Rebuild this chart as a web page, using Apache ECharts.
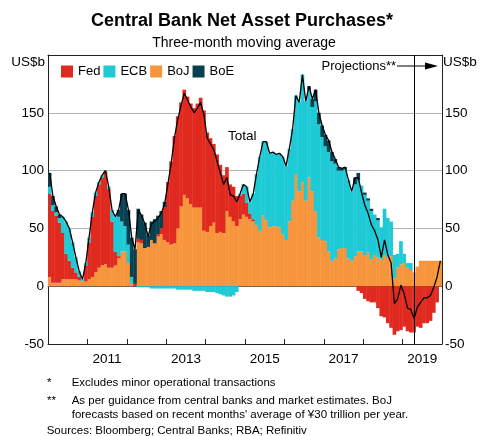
<!DOCTYPE html>
<html>
<head>
<meta charset="utf-8">
<script src="https://cdn.jsdelivr.net/npm/echarts@6/dist/echarts.min.js"></script>
<style>
html,body{margin:0;padding:0;background:#fff;}
#chart{width:480px;height:436px;}
</style>
</head>
<body>
<div id="chart"></div>
<script>
// ---- Data (US$b, three-month moving average, monthly Jan 2010 - Dec 2019) ----
const years = ['2010','2011','2012','2013','2014','2015','2016','2017','2018','2019'];
const yTicks = [-50, 0, 50, 100, 150, 200];

const fed = [
  72, 62, 58, 52, 40, 22, 16, 10, 6, 3, 0, 14,          // 2010
  32, 52, 66, 72, 76, 80, 68, 40, 12, 2, 0, 0,          // 2011
  0, 0, 2, 3, 3, 0, 0, 0, 0, 2, 5, 28,                  // 2012
  52, 72, 93, 97, 90, 91, 88, 87, 86, 90, 95, 104,      // 2013
  86, 76, 68, 68, 58, 50, 38, 28, 30, 26, 20, 18,       // 2014
  12, 5, 2, 0, 0, 0, 0, 0, 0, 0, 0, 0,                  // 2015
  0, 0, 0, 0, 0, 0, 0, 0, 0, 0, 0, 0,                   // 2016
  0, 0, 0, 0, 0, 0, 0, 0, 0, 0, -4, -6,                 // 2017
  -11, -13, -14, -14, -19, -26, -27, -32, -36, -42, -39, -38, // 2018
  -35, -39, -40, -40, -35, -36, -32, -32, -30, -23, -14, 0    // 2019
];
const ecb = [
  6, 5, 3, 4, 14, 28, 28, 22, 13, 5, 2, 2,
  4, 4, 3, 2, 2, 1, 2, 10, 30, 34, 26, 22,
  16, 6, 0, -1, -1, -1, -1, -2, -2, -2, -2, -2,
  -2, -2, -2, -3, -3, -3, -3, -3, -4, -4, -4, -4,
  -5, -5, -5, -6, -7, -8, -9, -9, -8, -5, 2, 8,
  14, 10, 22, 44, 64, 64, 68, 64, 64, 62, 64, 67,
  64, 63, 62, 68, 77, 93, 86, 76, 73, 95, 98, 89,
  82, 86, 86, 82, 68, 67, 68, 68, 60, 62, 62, 57,
  52, 45, 42, 35, 32, 28, 40, 34, 30, 20, 12, 20,
  8, 4, 6, 0, 0, 0, 0, 0, 0, 0, 0, 0
];
const boj = [
  8, 3, 3, 3, 6, 6, 6, 6, 6, 5, 4, 4,
  6, 8, 12, 16, 18, 19, 16, 16, 18, 24, 30, 30,
  20, 2, 0, 38, 37, 33, 34, 40, 37, 43, 45, 40,
  38, 36, 37, 50, 69, 79, 76, 71, 68, 68, 68, 48,
  47, 52, 55, 46, 47, 46, 65, 60, 56, 52, 58, 62,
  60, 58, 56, 53, 48, 61, 57, 51, 52, 52, 51, 45,
  40, 56, 74, 97, 82, 90, 74, 94, 82, 65, 42, 40,
  39, 30, 22, 24, 32, 33, 33, 24, 22, 26, 30, 30,
  27, 29, 23, 27, 25, 23, 27, 25, 26, 7, 16, 19,
  20, 16, 14, 12, 17, 22, 22, 22, 22, 22, 22, 22
];
const boe = [
  12, 8, 5, 3, 0, 0, 0, 0, 0, 0, 0, 0,
  0, 0, 0, 0, 0, 0, 0, 0, 0, 6, 24, 28,
  30, 34, 30, 26, 22, 22, 10, 16, 21, 16, 15, 5,
  0, 0, 0, 0, 0, 0, 0, 0, 0, 0, 0, 0,
  0, 0, 0, 0, 0, 0, 0, 0, 0, 0, 0, 0,
  0, 0, 0, 0, 0, 0, 0, 0, 0, 0, 0, 0,
  0, 0, 0, 0, 0, 0, 0, 3, 7, 10, 10, 10,
  10, 10, 8, 4, 3, 2, 2, 0, 0, 6, 6, 0,
  2, 2, 2, 0, 2, 0, 0, 0, 0, 0, 0, 0,
  0, 0, 0, 0, 0, 0, 0, 0, 0, 0, 0, 0
];
const projectionStart = '2019-04';

// monthly categories
const months = [];
years.forEach(y => { for (let m = 1; m <= 12; m++) months.push(y + '-' + (m < 10 ? '0' + m : m)); });
const total = months.map((_, i) => fed[i] + ecb[i] + boj[i] + boe[i]);

// ---- Chart ----
const FONT = '"Liberation Sans", Arial, Helvetica, sans-serif';
const COL = { fed: '#E0291F', ecb: '#1DCAD6', boj: '#F7953D', boe: '#08404F' };
const chart = echarts.init(document.getElementById('chart'), null, { renderer: 'canvas' });

const barBase = {
  type: 'bar', stack: 'cb', xAxisIndex: 0, yAxisIndex: 0,
  barWidth: '112%', emphasis: { disabled: true }, silent: true
};

function txt(x, y, text, size, align, weight) {
  return {
    type: 'text', x: x, y: y, silent: true,
    style: { text: text, fill: '#000', font: (weight || 'normal') + ' ' + size + 'px ' + FONT,
             textAlign: align || 'left', textVerticalAlign: 'middle' }
  };
}

const option = {
  animation: false,
  textStyle: { fontFamily: FONT },
  grid: { left: 48, right: 38, top: 55, bottom: 92, containLabel: false },
  legend: {
    data: ['Fed', 'ECB', 'BoJ', 'BoE'],
    left: 61, top: 65, padding: 0, itemWidth: 12, itemHeight: 12, itemGap: 3,
    icon: 'rect', selectedMode: false,
    textStyle: { fontSize: 13, color: '#000', fontFamily: FONT }
  },
  xAxis: [
    { type: 'category', data: months, boundaryGap: true,
      axisLine: { show: true, onZero: true, lineStyle: { color: '#555', width: 1 } },
      axisTick: { show: false }, axisLabel: { show: false }, splitLine: { show: false } },
    { type: 'category', data: years, position: 'bottom', boundaryGap: true,
      axisLine: { show: true, onZero: false, lineStyle: { color: '#222', width: 1 } },
      axisTick: { show: true, inside: true, length: 5, interval: 0, lineStyle: { color: '#222' } },
      axisLabel: { interval: 0, margin: 8, fontSize: 13.5, color: '#000', fontFamily: FONT,
                   formatter: v => (Number(v) % 2 === 1 ? v : '') },
      splitLine: { show: false } },
    { type: 'category', data: years, position: 'top',
      axisLine: { show: true, onZero: false, lineStyle: { color: '#222', width: 1 } },
      axisTick: { show: false }, axisLabel: { show: false }, splitLine: { show: false } }
  ],
  yAxis: [
    { type: 'value', min: yTicks[0], max: yTicks[yTicks.length - 1], interval: 50, position: 'left',
      axisLine: { show: true, lineStyle: { color: '#222' } }, axisTick: { show: false },
      axisLabel: { margin: 4, fontSize: 13.5, color: '#000', fontFamily: FONT,
                   formatter: v => (v === 200 ? '' : String(v)) },
      splitLine: { show: true, lineStyle: { color: '#b4b4b4', width: 1 } } },
    { type: 'value', min: yTicks[0], max: yTicks[yTicks.length - 1], interval: 50, position: 'right',
      axisLine: { show: true, lineStyle: { color: '#222' } }, axisTick: { show: false },
      axisLabel: { margin: 3, fontSize: 13.5, color: '#000', fontFamily: FONT,
                   formatter: v => (v === 200 ? '' : String(v)) },
      splitLine: { show: false } }
  ],
  series: [
    Object.assign({}, barBase, { name: 'BoJ', data: boj, itemStyle: { color: COL.boj } }),
    Object.assign({}, barBase, { name: 'Fed', data: fed, itemStyle: { color: COL.fed } }),
    Object.assign({}, barBase, { name: 'ECB', data: ecb, itemStyle: { color: COL.ecb } }),
    Object.assign({}, barBase, { name: 'BoE', data: boe, itemStyle: { color: COL.boe } }),
    { name: 'Total', type: 'line', data: total, xAxisIndex: 0, yAxisIndex: 0,
      symbol: 'none', silent: true, z: 5,
      lineStyle: { color: '#000', width: 1.3 },
      markLine: { silent: true, symbol: ['none', 'none'], label: { show: false },
                  lineStyle: { color: '#000', width: 1, type: 'solid' },
                  data: [{ xAxis: projectionStart }] } }
  ],
  graphic: [
    txt(242, 21, 'Central Bank Net Asset Purchases*', 18, 'center', 'bold'),
    txt(244, 43, 'Three-month moving average', 14, 'center'),
    txt(45, 62.5, 'US$b', 13.5, 'right'),
    txt(443, 62.5, 'US$b', 13.5, 'left'),
    txt(228, 136, 'Total', 13.5, 'left'),
    txt(396, 66, 'Projections**', 13, 'right'),
    { type: 'line', silent: true, shape: { x1: 397, y1: 66, x2: 428, y2: 66 },
      style: { stroke: '#000', lineWidth: 1 } },
    { type: 'polygon', silent: true, shape: { points: [[438, 66], [425, 62.5], [425, 69.5]] },
      style: { fill: '#000' } },
    txt(47, 383.3, '*', 11.5, 'left'),
    txt(71.7, 383.3, 'Excludes minor operational transactions', 11.5, 'left'),
    txt(47, 400.7, '**', 11.5, 'left'),
    txt(71.7, 400.7, 'As per guidance from central banks and market estimates. BoJ', 11.5, 'left'),
    txt(71.7, 414.7, "forecasts based on recent months' average of ¥30 trillion per year.", 11.5, 'left'),
    txt(46.7, 430.7, 'Sources: Bloomberg; Central Banks; RBA; Refinitiv', 11.5, 'left')
  ]
};
chart.setOption(option);
</script>
</body>
</html>
